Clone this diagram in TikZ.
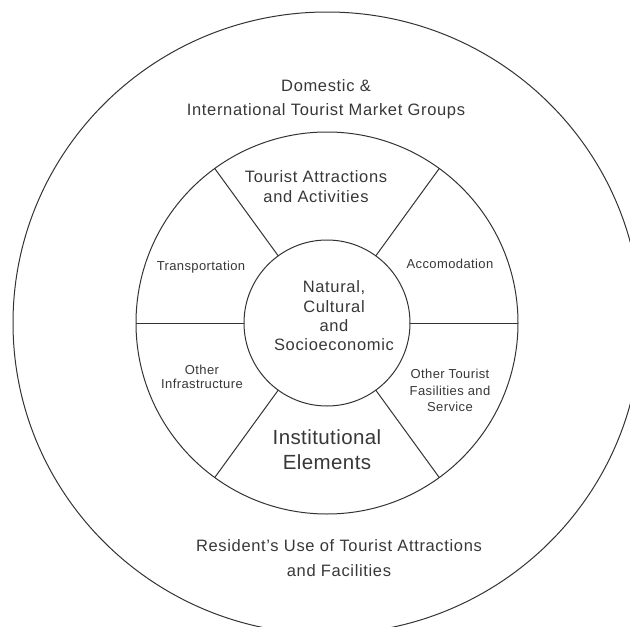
\documentclass[tikz,border=0pt]{standalone}
\usepackage{fontspec}
\setmainfont{Liberation Sans}
\usetikzlibrary{shapes.geometric}
\begin{document}
\begin{tikzpicture}[x=1pt,y=1pt,
  ln/.style={draw=black!80, line width=1pt},
  ring/.style={ln, outer sep=0pt, inner sep=0pt},
  txt/.style={text=black!78, align=center, inner sep=0pt},
  lbig/.style={txt, font=\fontsize{16.5}{#1}\selectfont\addfontfeatures{LetterSpace=4}},
  lsmall/.style={txt, font=\fontsize{13}{#1}\selectfont\addfontfeatures{LetterSpace=3}},
  lhuge/.style={txt, font=\fontsize{20.5}{#1}\selectfont\addfontfeatures{LetterSpace=2}},
]
\useasboundingbox (0,0) rectangle (630,-627);
\clip (0,0) rectangle (630,-627);
\fill[white] (0,0) rectangle (630,-627);
\coordinate (c) at (327,-323);
\node[ring, ellipse, minimum width=628pt, minimum height=622pt] (outer) at (c) {};
\node[ring, circle, minimum size=382pt] (wheel) at (c) {};
\node[ring, circle, minimum size=166pt] (core) at (c) {};
\foreach \a in {0,54,126,180,234,306} \draw[ln] (core.\a) -- (wheel.\a);

\node[lbig=24] (market) at (326,-99) {Domestic \&\\International Tourist Market Groups};
\node[lbig=25] (resident) at (339,-558.5) {Resident's Use of Tourist Attractions\\and Facilities};
\node[lbig=20] (attr) at (316,-187) {Tourist Attractions\\and Activities};
\node[lsmall=15] (transp) at (201,-267) {Transportation};
\node[lsmall=15] (accom) at (450,-264) {Accomodation};
\node[lbig=19.3] (natural) at (334,-316) {Natural,\\Cultural\\and\\Socioeconomic};
\node[lsmall=14.5] (infra) at (202,-377) {Other\\Infrastructure};
\node[lsmall=16.5] (facil) at (450,-390.5) {Other Tourist\\Fasilities and\\Service};
\node[lhuge=25] (inst) at (327,-449.5) {Institutional\\Elements};
\end{tikzpicture}
\end{document}
